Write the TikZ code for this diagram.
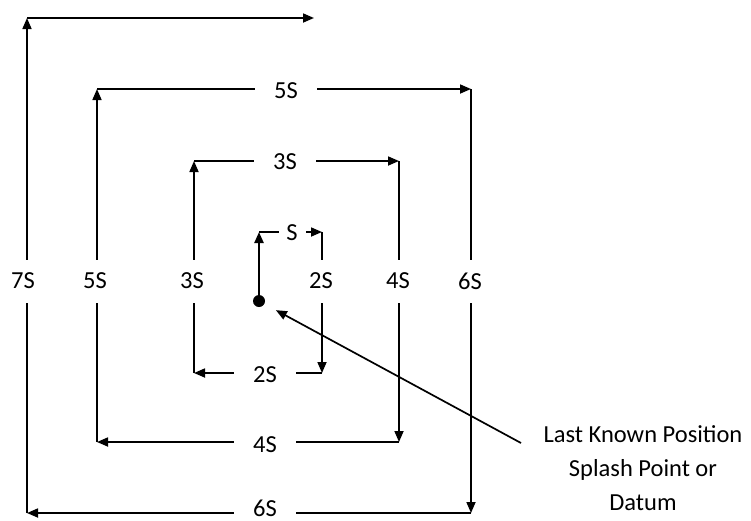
\documentclass[tikz,border=0pt]{standalone}
\usepackage{fontspec}
\setmainfont{Carlito}
\usetikzlibrary{arrows.meta}
\begin{document}
\begin{tikzpicture}[x=1pt,y=-1pt,
  tip/.style={-{Triangle[length=11pt,width=9pt]}},
  leg/.style={line width=1.7pt, tip},
  firstleg/.style={line width=2.3pt, tip},
  lab/.style={fill=white, inner sep=0pt, font=\fontsize{24.5}{29}\selectfont},
  vlab/.style={lab, minimum height=43pt, minimum width=30pt},
  hlab/.style={lab, minimum width=62pt, minimum height=20pt},
  slab/.style={lab, minimum width=27pt, minimum height=20pt},
  caption/.style={align=center, inner sep=0pt, font=\fontsize{24.5}{34}\selectfont},
]
\fill[white] (0,0) rectangle (751,520);
\clip (0,0) rectangle (751,520);

% corners of the expanding square search
\coordinate (c1)  at (259,232);
\coordinate (c2)  at (322,232);
\coordinate (c3)  at (322,373);
\coordinate (c4)  at (194,373);
\coordinate (c5)  at (194,161);
\coordinate (c6)  at (399,161);
\coordinate (c7)  at (399,442);
\coordinate (c8)  at (97,442);
\coordinate (c9)  at (97,89);
\coordinate (c10) at (471,89);
\coordinate (c11) at (471,513);
\coordinate (c12) at (27,513);
\coordinate (c13) at (27,18);
\coordinate (c14) at (314,18);

% datum
\node[circle, fill=black, inner sep=0pt, minimum size=12pt] (dot) at (259,301) {};

% legs of the search pattern
\draw[firstleg] (dot) -- (c1);
\draw[leg] (c1)  -- (c2);
\draw[leg] (c2)  -- (c3);
\draw[leg] (c3)  -- (c4);
\draw[leg] (c4)  -- (c5);
\draw[leg] (c5)  -- (c6);
\draw[leg] (c6)  -- (c7);
\draw[leg] (c7)  -- (c8);
\draw[leg] (c8)  -- (c9);
\draw[leg] (c9)  -- (c10);
\draw[leg] (c10) -- (c11);
\draw[leg] (c11) -- (c12);
\draw[leg] (c12) -- (c13);
\draw[leg] (c13) -- (c14);

% leg lengths
\node[slab] (l1)  at (292,233) {S};
\node[vlab] (l2)  at (321,281) {2S};
\node[hlab] (l3)  at (265,375) {2S};
\node[vlab] (l4)  at (192,281) {3S};
\node[hlab] (l5)  at (285,162) {3S};
\node[vlab] (l6)  at (398,281) {4S};
\node[hlab] (l7)  at (265,445) {4S};
\node[vlab] (l8)  at (95,281)  {5S};
\node[hlab] (l9)  at (286,91)  {5S};
\node[vlab] (l10) at (470,281) {6S};
\node[hlab] (l11) at (265,508) {6S};
\node[vlab] (l12) at (23,281)  {7S};

% caption and its pointer
\node[caption, anchor=north] (info) at (643,425) {Last Known Position\\Splash Point or\\Datum};
\coordinate (tail) at (521,443);
\draw[line width=1.7pt, tip, shorten >=13pt] (tail) -- (dot);
\end{tikzpicture}
\end{document}
